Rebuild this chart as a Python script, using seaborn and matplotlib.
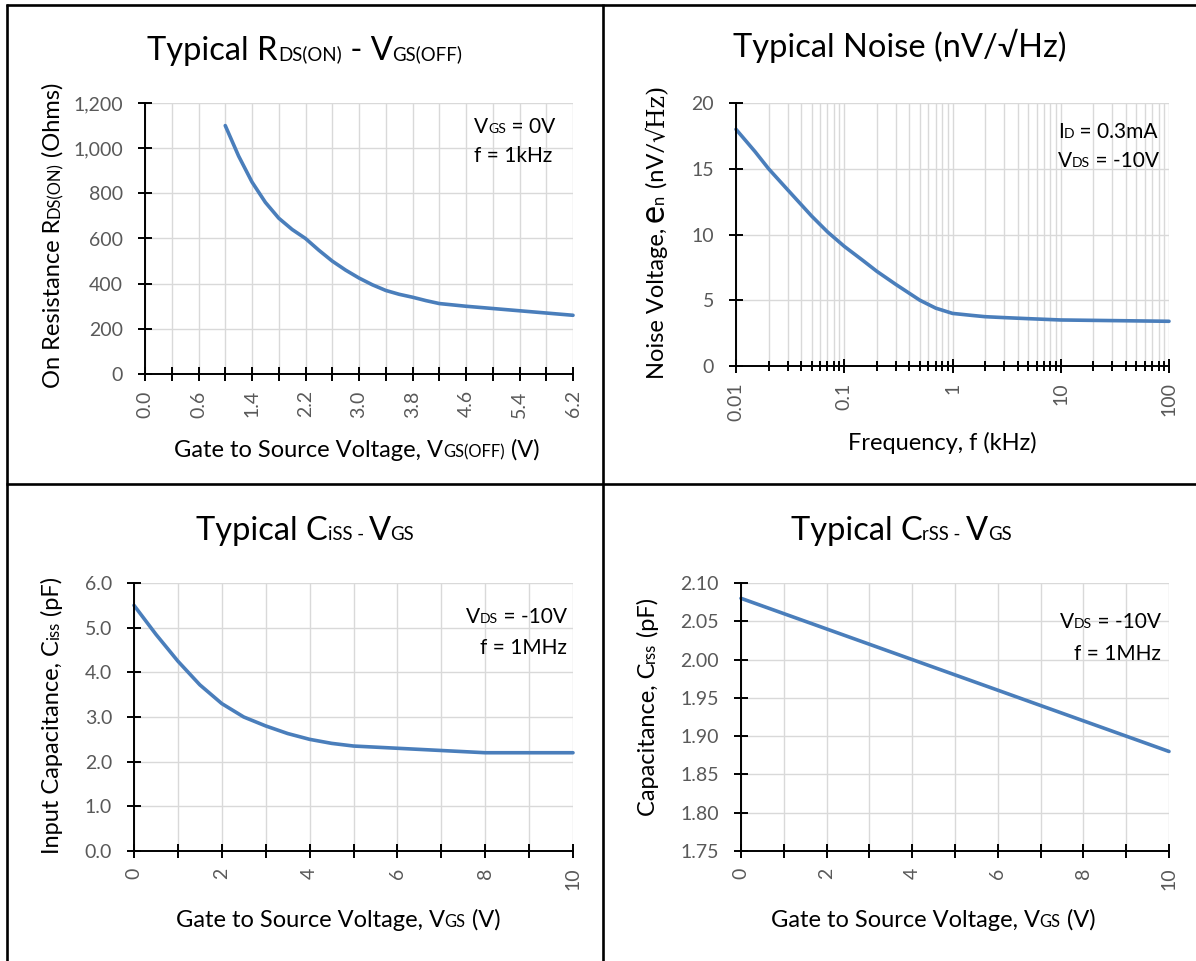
import numpy as np
import pandas as pd
import matplotlib
matplotlib.use("Agg")
import matplotlib.pyplot as plt
import seaborn as sns
from matplotlib.transforms import IdentityTransform
from matplotlib.lines import Line2D
from matplotlib.ticker import FixedLocator, NullFormatter

# ---------------- data ----------------
# Top-left: R_DS(ON) vs V_GS(OFF)
rds_vgsoff = [1.0, 1.2, 1.4, 1.6, 1.8, 2.0, 2.2, 2.4, 2.6, 2.8, 3.0, 3.2, 3.4, 3.6, 3.8,
              4.0, 4.2, 4.6, 5.0, 5.4, 5.8, 6.2]
rds_ohms = [1100, 965, 850, 760, 690, 640, 600, 548, 500, 460, 425, 395, 370, 353, 340,
            325, 312, 300, 290, 280, 270, 260]
rds_tick_pos = [-0.2, 0.6, 1.4, 2.2, 3.0, 3.8, 4.6, 5.4, 6.2]
rds_tick_labels = ["0.0", "0.6", "1.4", "2.2", "3.0", "3.8", "4.6", "5.4", "6.2"]
rds_yticks = [0, 200, 400, 600, 800, 1000, 1200]

# Top-right: noise vs frequency
noise_freq_khz = [0.01, 0.015, 0.02, 0.03, 0.05, 0.07, 0.1, 0.15, 0.2, 0.3, 0.5, 0.7, 1,
                  1.5, 2, 3, 5, 10, 100]
noise_nv = [18.0, 16.3, 15.0, 13.4, 11.4, 10.2, 9.1, 8.0, 7.2, 6.2, 5.0, 4.4, 4.0,
            3.85, 3.75, 3.68, 3.6, 3.5, 3.4]
noise_xticks = [0.01, 0.1, 1, 10, 100]
noise_xlabels = ["0.01", "0.1", "1", "10", "100"]
noise_yticks = [0, 5, 10, 15, 20]

# Bottom-left: Ciss vs VGS
ciss_vgs = [0, 0.5, 1, 1.5, 2, 2.5, 3, 3.5, 4, 4.5, 5, 6, 7, 8, 9, 10]
ciss_pf = [5.5, 4.85, 4.25, 3.72, 3.3, 3.0, 2.8, 2.63, 2.5, 2.41, 2.35, 2.3, 2.25, 2.2, 2.2, 2.2]
ciss_yticks = [0.0, 1.0, 2.0, 3.0, 4.0, 5.0, 6.0]

# Bottom-right: Crss vs VGS
crss_vgs = [0, 2, 4, 6, 8, 10]
crss_pf = [2.08, 2.04, 2.00, 1.96, 1.92, 1.88]
crss_yticks = [1.75, 1.80, 1.85, 1.90, 1.95, 2.00, 2.05, 2.10]

vgs_major = [0, 2, 4, 6, 8, 10]
vgs_minor = [1, 3, 5, 7, 9]

# ---------------- style ----------------
sns.set_theme(style="white")
FAM = ["Lato", "DejaVu Sans"]
SERIF = ["DejaVu Serif"]
plt.rcParams["font.family"] = FAM

W, H = 1196, 961
fig = plt.figure(figsize=(W / 100, H / 100), dpi=100)
fig.patch.set_facecolor("white")

LINE_COLOR = "#4A7EBB"
GRID = "#D9D9D9"
TICKLAB = "#595959"


def add_axes(x0, y0, x1, y1):
    return fig.add_axes([x0 / W, 1 - y1 / H, (x1 - x0) / W, (y1 - y0) / H])


def style_axes(ax):
    ax.set_facecolor("white")
    for s in ["top", "right"]:
        ax.spines[s].set_visible(False)
    for s in ["left", "bottom"]:
        ax.spines[s].set_color("black")
        ax.spines[s].set_linewidth(1.4)
        ax.spines[s].set_zorder(3)
    ax.tick_params(axis="both", which="both", direction="inout", color="black",
                   width=1.4, labelcolor=TICKLAB, labelsize=14,
                   bottom=True, left=True, top=False, right=False)
    ax.tick_params(axis="both", which="major", length=9.5)
    ax.tick_params(axis="both", which="minor", length=9.5)
    ax.tick_params(axis="y", pad=11)
    ax.tick_params(axis="x", pad=7, labelrotation=90)
    ax.set_axisbelow(True)
    ax.set_xlabel("")
    ax.set_ylabel("")


renderer = fig.canvas.get_renderer()


def advance(txt, size, fam):
    t1 = fig.text(0, 0, "|" + txt + "|", fontsize=size, family=fam)
    t2 = fig.text(0, 0, "||", fontsize=size, family=fam)
    w = t1.get_window_extent(renderer).width - t2.get_window_extent(renderer).width
    t1.remove()
    t2.remove()
    return w


def rich(x, y_img, pieces, base, ha="left", rotation=0, color="black"):
    y = H - y_img
    specs = []
    for p in pieces:
        txt, f = p[0], p[1]
        fam = p[2] if len(p) > 2 else FAM
        size = base * f
        specs.append((txt, size, fam, advance(txt, size, fam)))
    total = sum(s[3] for s in specs)
    pos = {"left": 0, "center": -total / 2, "right": -total}[ha]
    for txt, size, fam, adv in specs:
        if rotation == 0:
            fig.text(x + pos, y, txt, transform=IdentityTransform(), fontsize=size,
                     family=fam, ha="left", va="baseline", color=color)
        else:
            fig.text(x, y + pos, txt, transform=IdentityTransform(), fontsize=size,
                     family=fam, ha="left", va="baseline", rotation=90,
                     rotation_mode="anchor", color=color)
        pos += adv


TITLE = 23.5
LABEL = 17
ANN = 15

# ---------------- panel 1: RDS(ON) ----------------
ax1 = add_axes(145, 103, 573, 374)
sns.lineplot(x=rds_vgsoff, y=rds_ohms, ax=ax1, color=LINE_COLOR, linewidth=2.6, clip_on=False)
style_axes(ax1)
ax1.set_xlim(-0.2, 6.2)
ax1.set_ylim(0, 1200)
ax1.xaxis.set_major_locator(FixedLocator(rds_tick_pos))
ax1.set_xticklabels(rds_tick_labels)
ax1.xaxis.set_minor_locator(FixedLocator(np.arange(-0.2, 6.21, 0.4)))
ax1.xaxis.set_minor_formatter(NullFormatter())
ax1.set_yticks(rds_yticks)
ax1.set_yticklabels([f"{v:,}" for v in rds_yticks])
ax1.grid(True, axis="x", which="both", color=GRID, lw=1)
ax1.grid(True, axis="y", which="major", color=GRID, lw=1)

# ---------------- panel 2: noise ----------------
ax2 = add_axes(736, 103, 1169, 366)
sns.lineplot(x=noise_freq_khz, y=noise_nv, ax=ax2, color=LINE_COLOR, linewidth=2.6, clip_on=False)
ax2.set_xscale("log")
style_axes(ax2)
ax2.set_xlim(0.01, 100)
ax2.set_ylim(0, 20)
ax2.xaxis.set_major_locator(FixedLocator(noise_xticks))
ax2.set_xticklabels(noise_xlabels)
minors = [m * d for d in [0.01, 0.1, 1, 10] for m in range(2, 10)]
ax2.xaxis.set_minor_locator(FixedLocator(minors))
ax2.xaxis.set_minor_formatter(NullFormatter())
ax2.tick_params(axis="x", which="minor", length=6.5)
ax2.set_yticks(noise_yticks)
ax2.set_yticklabels([str(v) for v in noise_yticks])
ax2.grid(True, axis="x", which="both", color=GRID, lw=1)
ax2.grid(True, axis="y", which="major", color=GRID, lw=1)

# ---------------- panel 3: Ciss ----------------
ax3 = add_axes(134, 583, 573, 851)
sns.lineplot(x=ciss_vgs, y=ciss_pf, ax=ax3, color=LINE_COLOR, linewidth=2.6, clip_on=False)
style_axes(ax3)
ax3.set_xlim(0, 10)
ax3.set_ylim(0, 6)
ax3.set_xticks(vgs_major)
ax3.set_xticklabels([str(v) for v in vgs_major])
ax3.xaxis.set_minor_locator(FixedLocator(vgs_minor))
ax3.xaxis.set_minor_formatter(NullFormatter())
ax3.set_yticks(ciss_yticks)
ax3.set_yticklabels([f"{v:.1f}" for v in ciss_yticks])
ax3.grid(True, axis="x", which="both", color=GRID, lw=1)
ax3.grid(True, axis="y", which="major", color=GRID, lw=1)

# ---------------- panel 4: Crss ----------------
ax4 = add_axes(741, 583, 1169, 851)
sns.lineplot(x=crss_vgs, y=crss_pf, ax=ax4, color=LINE_COLOR, linewidth=2.6, clip_on=False)
style_axes(ax4)
ax4.set_xlim(0, 10)
ax4.set_ylim(1.75, 2.10)
ax4.set_xticks(vgs_major)
ax4.set_xticklabels([str(v) for v in vgs_major])
ax4.xaxis.set_minor_locator(FixedLocator(vgs_minor))
ax4.xaxis.set_minor_formatter(NullFormatter())
ax4.set_yticks(crss_yticks)
ax4.set_yticklabels([f"{v:.2f}" for v in crss_yticks])
ax4.grid(True, axis="x", which="both", color=GRID, lw=1)
ax4.grid(True, axis="y", which="major", color=GRID, lw=1)

# ---------------- titles ----------------
S = 0.57
rich(305, 60, [("Typical R", 1), ("DS(ON)", S), (" - V", 1), ("GS(OFF)", S)], TITLE, ha="center")
rich(900, 57, [("Typical Noise (nV/\u221aHz)", 1)], TITLE, ha="center")
rich(305, 540, [("Typical C", 1), ("iSS - ", S), ("V", 1), ("GS", S)], TITLE, ha="center")
rich(901, 540, [("Typical C", 1), ("rSS - ", S), ("V", 1), ("GS", S)], TITLE, ha="center")

# ---------------- axis titles ----------------
L = 0.7
rich(357, 457, [("Gate to Source Voltage, V", 1), ("GS(OFF)", L), (" (V)", 1)], LABEL, ha="center")
rich(942, 450, [("Frequency, f (kHz)", 1)], LABEL, ha="center")
rich(338, 927, [("Gate to Source Voltage, V", 1), ("GS", L), (" (V)", 1)], LABEL, ha="center")
rich(933, 927, [("Gate to Source Voltage, V", 1), ("GS", L), (" (V)", 1)], LABEL, ha="center")

rich(60, 235, [("On Resistance R", 1), ("DS(ON)", L), (" (Ohms)", 1)], LABEL, ha="center", rotation=90)
rich(664, 232, [("Noise Voltage, ", 1), ("e", 1.45), ("n", L), (" (nV/", 1), ("\u221aHz)", 1, SERIF)],
     LABEL, ha="center", rotation=90)
rich(59, 715, [("Input Capacitance, C", 1), ("iss", L), (" (pF)", 1)], LABEL, ha="center", rotation=90)
rich(655, 707, [("Capacitance, C", 1), ("rss", L), (" (pF)", 1)], LABEL, ha="center", rotation=90)

# ---------------- annotations ----------------
A = 0.67
rich(474, 133, [("V", 1), ("GS", A), (" = 0V", 1)], ANN, ha="left")
rich(474, 162, [("f = 1kHz", 1)], ANN, ha="left")
rich(1058, 138, [("I", 1), ("D", A), (" = 0.3mA", 1)], ANN, ha="left")
rich(1058, 167, [("V", 1), ("DS", A), (" = -10V", 1)], ANN, ha="left")
rich(567, 623, [("V", 1), ("DS", A), (" = -10V", 1)], ANN, ha="right")
rich(567, 654, [("f = 1MHz", 1)], ANN, ha="right")
rich(1161, 628, [("V", 1), ("DS", A), (" = -10V", 1)], ANN, ha="right")
rich(1161, 660, [("f = 1MHz", 1)], ANN, ha="right")

# ---------------- panel borders ----------------
def hline(y_img, x0, x1):
    fig.add_artist(Line2D([x0, x1], [H - y_img, H - y_img], transform=IdentityTransform(),
                          color="black", lw=1.9, solid_capstyle="butt"))


def vline(x, y0_img, y1_img):
    fig.add_artist(Line2D([x, x], [H - y0_img, H - y1_img], transform=IdentityTransform(),
                          color="black", lw=1.9, solid_capstyle="butt"))


hline(4.5, 6, W)
vline(7, 3.5, H)
vline(602.5, 3.5, H)
hline(483.5, 6, W)

fig.savefig("out.png", dpi=100)
